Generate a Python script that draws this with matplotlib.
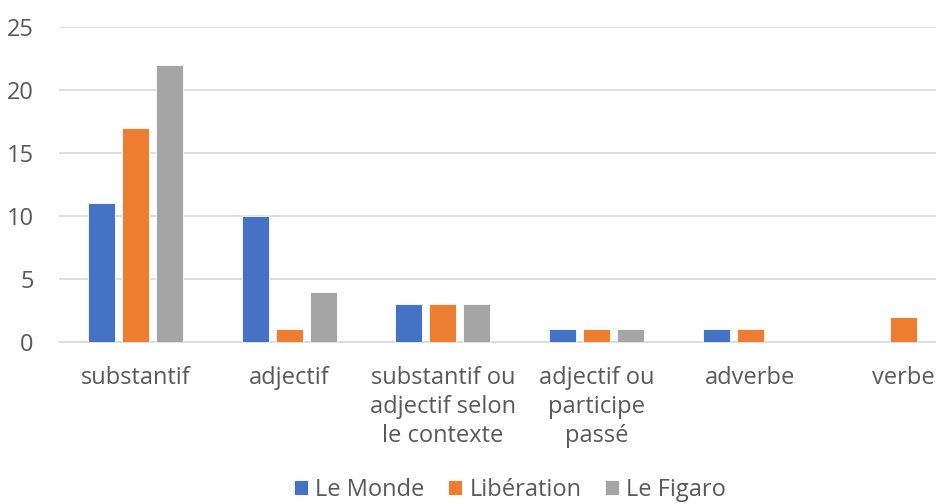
import matplotlib
matplotlib.use("Agg")
import matplotlib.pyplot as plt
import numpy as np

categories = ["substantif", "adjectif", "substantif ou\nadjectif selon\nle contexte",
              "adjectif ou\nparticipe\npassé", "adverbe", "verbe"]
le_monde = [11, 10, 3, 1, 1, 0]
liberation = [17, 1, 3, 1, 1, 2]
le_figaro = [22, 4, 3, 1, 0, 0]
series_names = ["Le Monde", "Libération", "Le Figaro"]
colors = ["#4472C4", "#ED7D31", "#A5A5A5"]
yticks = [0, 5, 10, 15, 20, 25]

plt.rcParams['font.family'] = ['Open Sans', 'DejaVu Sans']
txt = "#595959"
fs = 17

fig = plt.figure(figsize=(9.36, 5.04), dpi=100)
W, H = 936, 504
left, right = 58.6, 980.6
bottom, top = 342, 27
ax = fig.add_axes([left / W, (H - bottom) / H, (right - left) / W, (bottom - top) / H])

x = np.arange(len(categories))
bw = 27 / 153.7
off = 34 / 153.7
for i, (vals, name, c) in enumerate(zip([le_monde, liberation, le_figaro], series_names, colors)):
    ax.bar(x + (i - 1) * off, vals, width=bw, color=c, label=name, zorder=3,
           edgecolor="white", linewidth=0.6)

ax.set_xlim(-0.5, len(categories) - 0.5)
ax.set_ylim(0, 25)
ax.set_yticks(yticks)
ax.set_yticklabels([str(t) for t in yticks], fontsize=fs, color=txt)
ax.set_xticks(x)
ax.set_xticklabels(categories, fontsize=fs, color=txt, linespacing=1.3, va="top")
ax.tick_params(axis="both", length=0)
ax.tick_params(axis="y", pad=18)
ax.tick_params(axis="x", pad=17)
ax.grid(axis="y", color="#D9D9D9", linewidth=1.2, zorder=0)
for s in ["top", "right", "left"]:
    ax.spines[s].set_visible(False)
ax.spines["bottom"].set_color("#D9D9D9")
ax.spines["bottom"].set_linewidth(1.2)

handles, labels = ax.get_legend_handles_labels()
fig.legend(handles, labels, loc="center", bbox_to_anchor=(510 / W, 1 - 490 / H), ncol=3,
           frameon=False, fontsize=fs, labelcolor=txt, handlelength=0.6, handleheight=0.6,
           handletextpad=0.3, columnspacing=1.0, borderpad=0)

fig.savefig("out.png", dpi=100)
